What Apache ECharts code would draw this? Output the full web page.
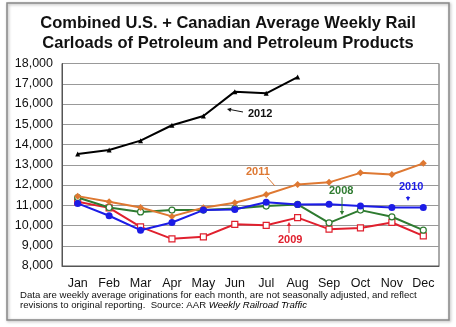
<!DOCTYPE html>
<html><head><meta charset="utf-8">
<script src="https://cdn.jsdelivr.net/npm/echarts@6/dist/echarts.min.js"></script>
<style>html,body{margin:0;padding:0;background:#fff}#c{width:456px;height:327px}</style>
</head><body><div id="c"></div>
<script>
const months = ['Jan','Feb','Mar','Apr','May','Jun','Jul','Aug','Sep','Oct','Nov','Dec'];
const y2012 = [13530,13730,14190,14950,15410,16610,16530,17330,null,null,null,null];
const y2011 = [11450,11170,10890,10450,10880,11120,11530,12030,12130,12600,12520,13070];
const y2010 = [11090,10480,9770,10150,10760,10790,11150,11040,11050,10960,10890,10890];
const y2009 = [11170,10870,9930,9340,9440,10060,10010,10390,9820,9880,10150,9490];
const y2008 = [11380,10890,10670,10760,10760,10840,10960,11040,10130,10760,10430,9770];
const yTicks = {min:8000,max:18000,interval:1000};

const chart = echarts.init(document.getElementById('c'));
const F = 'Arial, "Liberation Sans", sans-serif';
function line(name, data, color, symbol, size, hollow, z){
  return {name, type:'line', data, z, symbol, symbolSize:size, showSymbol:true,
    lineStyle:{color, width:2}, itemStyle:{color: hollow ? '#fff' : color, borderColor:color, borderWidth: hollow?1.2:0},
    connectNulls:false, animation:false};
}
function arrow(x1,y1,x2,y2,color){
  return {type:'line', shape:{x1,y1,x2,y2}, style:{stroke:color, lineWidth:1}, z:20};
}
function head(x,y,ang,color){
  const L=4, W=2.2;
  const c=Math.cos(ang), s=Math.sin(ang);
  const p=[[x,y],[x-L*c+W*s,y-L*s-W*c],[x-L*c-W*s,y-L*s+W*c]];
  return {type:'polygon', shape:{points:p}, style:{fill:color}, z:20};
}
chart.setOption({
  backgroundColor:'#fff',
  animation:false,
  title:{text:'Combined U.S. + Canadian Average Weekly Rail\nCarloads of Petroleum and Petroleum Products',
    left:'center', top:9, textStyle:{fontFamily:F, fontSize:16.5, fontWeight:'bold', color:'#111', lineHeight:19.5}},
  grid:{left:62, right:17, top:63.5, bottom:61, show:true, borderColor:'#555', borderWidth:1},
  xAxis:{type:'category', data:months, boundaryGap:true,
    axisLine:{lineStyle:{color:'#555'}},
    axisTick:{inside:true, length:4, lineStyle:{color:'#666'}},
    axisLabel:{fontFamily:F, fontSize:12.5, color:'#111', margin:11}},
  yAxis:{type:'value', min:yTicks.min, max:yTicks.max, interval:yTicks.interval,
    axisLine:{show:true, lineStyle:{color:'#555'}}, axisTick:{show:false},
    splitLine:{lineStyle:{color:'#999', width:1}},
    axisLabel:{fontFamily:F, fontSize:12.5, color:'#111', margin:9,
      formatter:v=>v.toLocaleString('en-US')}},
  series:[
    line('2009', y2009, '#E0202E', 'rect', 6, true, 2),
    line('2008', y2008, '#2E7B30', 'circle', 6, true, 3),
    line('2011', y2011, '#DE7832', 'diamond', 7, false, 4),
    line('2010', y2010, '#1C1CE6', 'circle', 7, false, 5),
    line('2012', y2012, '#000', 'triangle', 5, false, 6)
  ],
  graphic:[
    {type:'rect', shape:{x:7,y:3,width:442,height:317}, style:{fill:null, stroke:'#888', lineWidth:1.5, shadowBlur:3, shadowColor:'rgba(0,0,0,0.35)', shadowOffsetX:1, shadowOffsetY:1}, z:-1, silent:true},
    {type:'text', left:20, top:290, style:{text:'Data are weekly average originations for each month, are not seasonally adjusted, and reflect', font:'9.6px '+F, fill:'#111'}},
    {type:'text', left:20, top:300, style:{
      text:'{a|revisions to original reporting.  Source: AAR }{b|Weekly Railroad Traffic}',
      rich:{a:{font:'9.6px '+F, fill:'#111', color:'#111'}, b:{font:'italic 9.6px '+F, color:'#111'}}}},
    {type:'text', left:248, top:108, style:{text:'2012', font:'bold 11px '+F, fill:'#111'}, z:20},
    arrow(243,112,230,109.5,'#111'), head(227,109,Math.atan2(-3,-15),'#111'),
    {type:'text', left:246, top:166, style:{text:'2011', font:'bold 11px '+F, fill:'#DE7832'}, z:20},
    arrow(267,177,275,186,'#DE7832'),
    {type:'text', left:329, top:185, style:{text:'2008', font:'bold 11px '+F, fill:'#2E7B30'}, z:20},
    arrow(342,197,342,212,'#2E7B30'), head(342,215,Math.PI/2,'#2E7B30'),
    {type:'text', left:399, top:181, style:{text:'2010', font:'bold 11px '+F, fill:'#1C1CE6'}, z:20},
    arrow(408,196,408,199,'#1C1CE6'), head(408,201,Math.PI/2,'#1C1CE6'),
    {type:'text', left:278, top:234, style:{text:'2009', font:'bold 11px '+F, fill:'#E0202E'}, z:20},
    arrow(289,233,289,225,'#E0202E'), head(289,222,-Math.PI/2,'#E0202E')
  ]
});
</script></body></html>
